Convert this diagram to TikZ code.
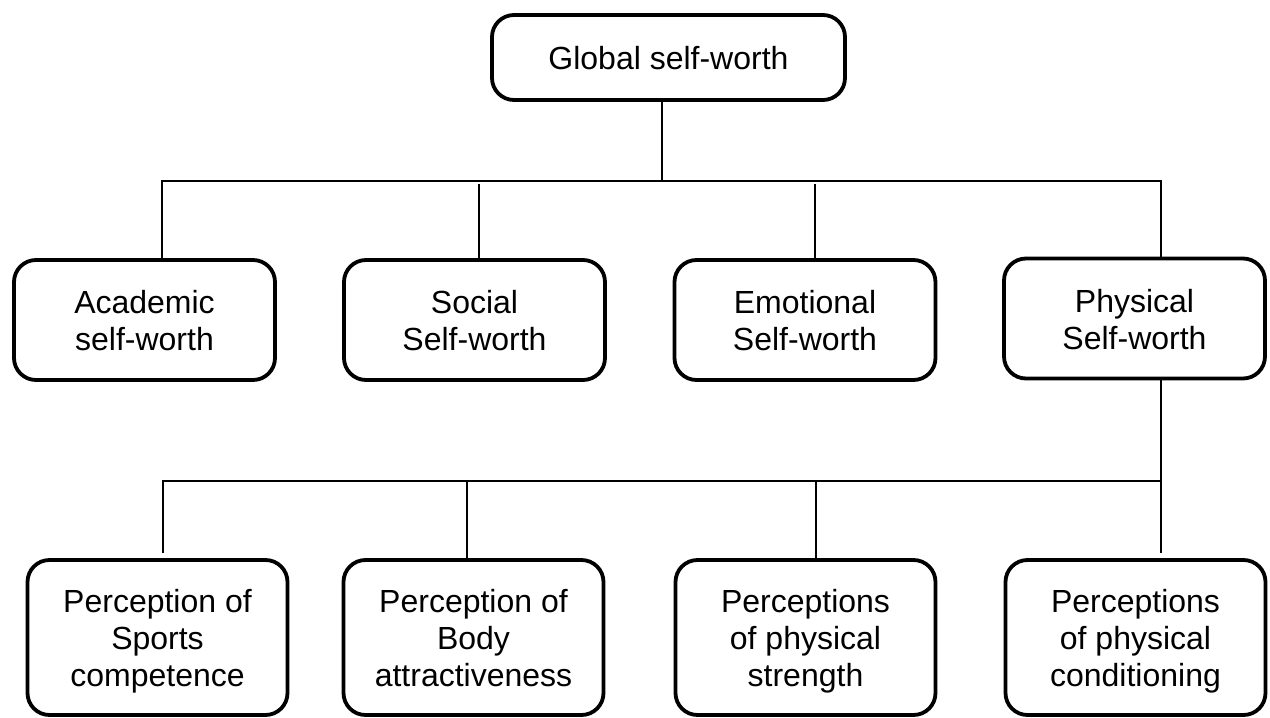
\documentclass[tikz,border=0pt]{standalone}
\usepackage{fontspec}
\setmainfont{Liberation Sans}
\usepackage{xcolor}

\begin{document}
\begin{tikzpicture}[x=1pt,y=-1pt]
    \tikzstyle{G}=[rectangle,draw,line width=3.8pt,rounded corners=22pt,align=center,inner sep=0pt,text height=24pt,text depth=0pt,font=\fontsize{32}{37}\selectfont]
    \tikzstyle{S}=[G,minimum width=261pt,minimum height=120pt,text height=61pt]
    \tikzstyle{P}=[G,minimum width=260pt,minimum height=155pt,text height=98pt]
    \tikzstyle{C}=[line width=1.3pt]

    \useasboundingbox (0,0) rectangle (1270,718);

    % Top box
    \node [G,minimum width=353pt,minimum height=85pt] (global) at (668.5,57.5) {Global self-worth};

    % Second row
    \node [S] (academic)  at (144.5,320) {Academic\\self-worth};
    \node [S] (social)    at (474.5,320) {Social\\Self-worth};
    \node [S] (emotional) at (805,320)   {Emotional\\Self-worth};
    \node [S] (physical)  at (1134.5,318.5) {Physical\\Self-worth};

    % Third row
    \node [P] (sports)       at (157.5,637.5) {Perception of\\Sports\\competence};
    \node [P] (body)         at (473.5,637.5) {Perception of\\Body\\attractiveness};
    \node [P] (strength)     at (805.5,637.5) {Perceptions\\of physical\\strength};
    \node [P] (conditioning) at (1135.5,637.5) {Perceptions\\of physical\\conditioning};

    % Upper bus
    \coordinate (a0) at (662,181);
    \coordinate (a1) at (162,181);
    \coordinate (a2) at (479,184);
    \coordinate (a3) at (815,184);
    \coordinate (a4) at (1161,181);
    \draw [C] (global.south -| a0) -- (a0);
    \draw [C] (a1 |- academic.north) -- (a1) -- (a4) -- (a4 |- physical.north);
    \draw [C] (a2) -- (a2 |- social.north);
    \draw [C] (a3) -- (a3 |- emotional.north);

    % Lower bus
    \coordinate (b1) at (163,481);
    \coordinate (b2) at (467,481);
    \coordinate (b3) at (816,481);
    \coordinate (b4) at (1161,481);
    \draw [C] (b1) ++(0,72) coordinate (s1) -- (b1) -- (b4);
    \draw [C] (physical.south -| b4) -- (b4) -- ++(0,72) coordinate (s4);
    \draw [C] (b2) -- (b2 |- body.north);
    \draw [C] (b3) -- (b3 |- strength.north);
\end{tikzpicture}
\end{document}
